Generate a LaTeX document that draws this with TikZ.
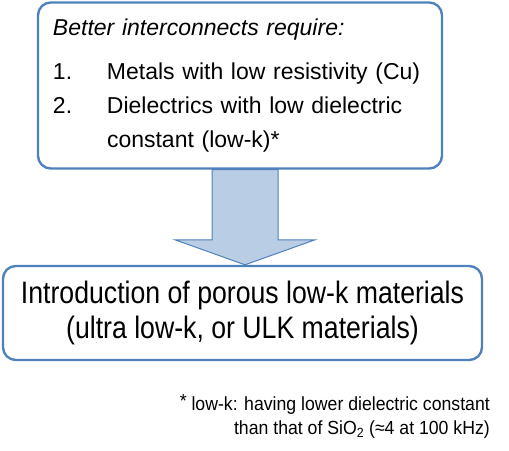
\documentclass[tikz,border=0pt]{standalone}
\usepackage{fontspec}
\setmainfont{Liberation Sans}
\newfontfamily\narrowsf[FakeStretch=0.86]{Liberation Sans}
\newfontfamily\notesf[FakeStretch=0.93]{Liberation Sans}
\usetikzlibrary{calc,backgrounds}
\definecolor{Frame}{HTML}{4F81BD}
\definecolor{ArrowFill}{HTML}{B9CDE5}

\begin{document}
\begin{tikzpicture}[x=1bp, y=-1bp, box/.style={rounded corners=4.5mm, draw=Frame, line width=2.4pt, inner sep=0pt}, bigarrow/.style={draw=Frame, line width=1pt, fill=ArrowFill, line join=miter}]
\useasboundingbox (0,0) rectangle (509,451);
\node[box, minimum width=404bp, minimum height=166bp, text width=374bp, align=left, font=\fontsize{23bp}{34bp}\selectfont] (need) at (240,85.5) {\textit{Better interconnects require:}\par\vspace{10bp}
\makebox[54bp][l]{1.}Metals with low resistivity (Cu)\par
\hangindent=54bp\hangafter=1 \makebox[54bp][l]{2.}Dielectrics with low dielectric\newline constant (low-k)*\par};
\node[box, minimum width=479bp, minimum height=94bp, align=center, font=\narrowsf\fontsize{31bp}{35bp}\selectfont] (ulk) at (242.5,313) {Introduction of porous low-k materials\\(ultra low-k, or ULK materials)};
\node[anchor=north east, inner sep=0pt, align=right, font=\notesf\fontsize{19bp}{24bp}\selectfont] (note) at (490,394) {\raisebox{3bp}{*} low-k: having lower dielectric constant\\than that of SiO\textsubscript{2} (≈4 at 100 kHz)};
\coordinate (tip) at ($(ulk.north)+(2.5,0)$);
\begin{scope}[on background layer]
\draw[bigarrow] ($(tip |- need.south)+(-33,0)$) -- ($(tip)+(-33,-25)$) -- ($(tip)+(-70,-25)$) -- (tip) -- ($(tip)+(70,-25)$) -- ($(tip)+(33,-25)$) -- ($(tip |- need.south)+(33,0)$) -- cycle;
\end{scope}
\end{tikzpicture}
\end{document}
